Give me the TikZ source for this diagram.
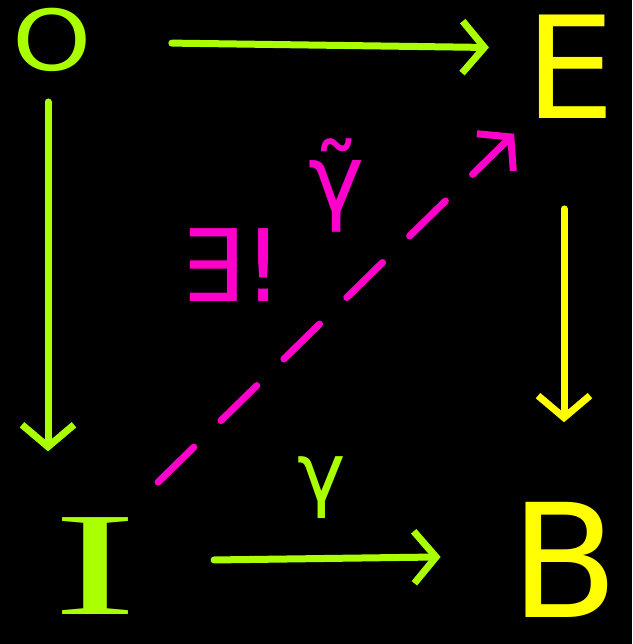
\documentclass[tikz,border=0pt]{standalone}
\usepackage{fontspec}
\setmainfont{DejaVu Sans}
\newfontfamily\serifI{Liberation Serif}
\usetikzlibrary{arrows.meta}
\definecolor{hgreen}{HTML}{AAFF00}
\definecolor{hyellow}{HTML}{FFFF00}
\definecolor{hmag}{HTML}{FF00CC}
\begin{document}
\begin{tikzpicture}[x=1pt,y=-1pt,
  tipbarb/.tip={Straight Barb[length=22pt,width=52pt,line width=7pt]},
  arr/.style={line width=7pt, line cap=round, line join=round, -tipbarb},
  lbl/.style={inner sep=0pt},
  dashedarr/.style={line width=7pt, line cap=round, line join=round, tipbarb-, dash pattern=on 50pt off 38pt}]
\useasboundingbox (0,0) rectangle (632,644);
\fill[black] (0,0) rectangle (632,644);
\node[lbl,hgreen,font=\fontsize{84}{84}\selectfont] (O) at (52,40) {\scalebox{1.2}[1]{O}};
\node[lbl,hyellow,font=\fontsize{142}{142}\selectfont] (E) at (570,67) {E};
\node[lbl,hgreen,font=\serifI\fontsize{148}{148}\selectfont] (I) at (95,566) {\scalebox{1.7}[1]{I}};
\node[lbl,hyellow,font=\fontsize{158}{158}\selectfont] (B) at (565,560) {B};
\draw[arr,hgreen,shorten <=80pt,shorten >=36pt] ([yshift=-2pt]O.east) -- ([yshift=19pt]E.west);
\draw[arr,hgreen,shorten <=30pt,shorten >=66pt] ([xshift=-4pt]O.south) -- ([xshift=-4pt]O.south |- I.north);
\draw[arr,hyellow,shorten <=90pt,shorten >=80pt] ([xshift=-6pt]E.south) -- ([xshift=-6pt]E.south |- B.north);
\draw[arr,hgreen,shorten <=77pt,shorten >=70pt] ([yshift=5pt]I.east) -- ([yshift=4pt]B.west);
\node[hgreen,font=\fontsize{82}{82}\selectfont,inner sep=0pt] (g) at (322,488) {γ};
\draw[dashedarr,hmag,shorten >=28pt,shorten <=4pt] ([xshift=-8pt,yshift=-12pt]E.south west) -- ([xshift=-15pt]I.north east);
\node[hmag,font=\fontsize{100}{100}\selectfont,inner sep=0pt] (ex) at (232,265) {∃!};
\node[hmag,font=\fontsize{95}{95}\selectfont,inner sep=0pt] (gt) at (337,185) {γ̃};
\end{tikzpicture}
\end{document}
